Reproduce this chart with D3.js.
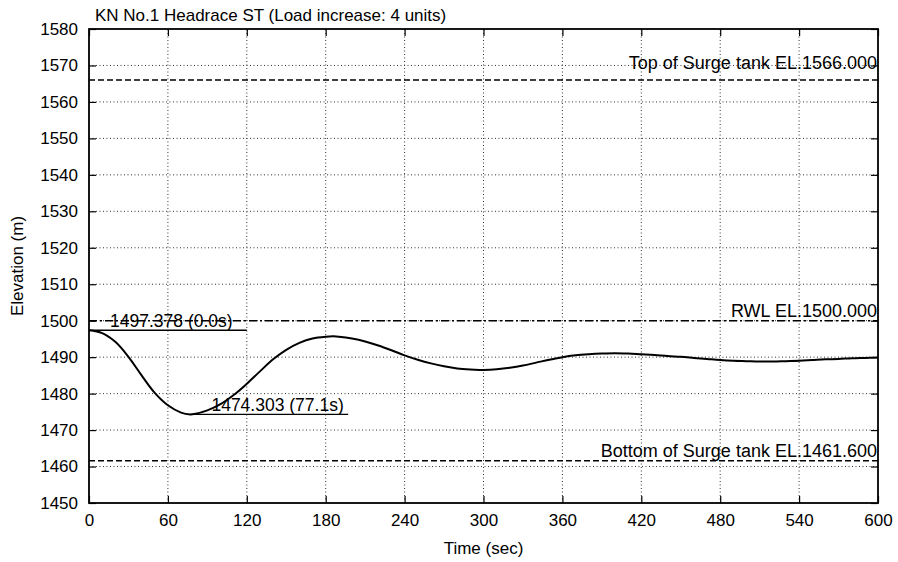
<!DOCTYPE html>
<html>
<head>
<meta charset="utf-8">
<script src="https://cdn.jsdelivr.net/npm/d3@7"></script>
<style>
  body { margin: 0; background: #fff; }
  svg { display: block; font-family: "Liberation Sans", Arial, Helvetica, sans-serif; }
</style>
</head>
<body>
<svg id="chart" width="898" height="562"></svg>
<script>
const margin = { left: 89, right: 20, top: 29, bottom: 59 };
const size = { width: 898, height: 562 };

// water level in surge tank (sec, m)
const times = [0, 10, 20, 30, 40, 50, 60, 70, 77.1, 80, 90, 100, 110, 120, 130, 140, 150, 160, 170, 180, 186,
  190, 200, 210, 220, 230, 240, 250, 260, 270, 280, 290, 297, 300, 310, 320, 330, 340, 350, 360, 370, 380, 390,
  400, 410, 420, 430, 440, 450, 460, 470, 480, 490, 500, 510, 520, 530, 540, 550, 560, 570, 580, 590, 600];
const levels = [1497.378, 1496.6, 1494.2, 1490.1, 1485.0, 1480.2, 1476.8, 1474.8, 1474.303, 1474.4, 1475.4, 1477.1,
  1479.6, 1482.7, 1486.1, 1489.4, 1492.0, 1493.9, 1495.1, 1495.6, 1495.7,
  1495.6, 1495.1, 1494.3, 1493.2, 1491.9, 1490.5, 1489.3, 1488.3, 1487.5, 1486.9, 1486.6, 1486.5, 1486.5, 1486.7,
  1487.1, 1487.7, 1488.5, 1489.3, 1490.0, 1490.5, 1490.8, 1491.0,
  1491.1, 1491.0, 1490.8, 1490.6, 1490.3, 1490.1, 1489.8, 1489.5, 1489.2, 1489.0, 1488.9, 1488.8, 1488.8, 1488.9,
  1489.0, 1489.2, 1489.4, 1489.5, 1489.7, 1489.8, 1489.9];

const xTicks = d3.range(0, 601, 60);
const yTicks = d3.range(1450, 1581, 10);

// reference levels
const refLabels = ['Top of Surge tank EL.1566.000', 'RWL EL.1500.000', 'Bottom of Surge tank EL.1461.600'];
const refValues = [1566.0, 1500.0, 1461.6];
const refDash = ['6,3', '8,3,2,3', '6,3'];
const refLift = [11, 4, 4];

// max / min marks
const markTimes = [0.0, 77.1];
const markValues = [1497.378, 1474.303];
const markLabels = ['1497.378 (0.0s)', '1474.303 (77.1s)'];

const svg = d3.select('#chart');

const x = d3.scaleLinear().domain([0, 600]).range([margin.left, size.width - margin.right]);
const y = d3.scaleLinear().domain([1450, 1580]).range([size.height - margin.bottom, margin.top]);

const x0 = x(0), x1 = x(600), y0 = y(1450), y1 = y(1580);

// grid
const grid = svg.append('g').attr('stroke', '#333').attr('stroke-width', 1).attr('stroke-dasharray', '1,2.5');
grid.selectAll('.gx').data(xTicks.slice(1, -1)).join('line')
  .attr('x1', d => x(d)).attr('x2', d => x(d)).attr('y1', y0).attr('y2', y1);
grid.selectAll('.gy').data(yTicks.slice(1, -1)).join('line')
  .attr('x1', x0).attr('x2', x1).attr('y1', d => y(d)).attr('y2', d => y(d));

// ticks on all four sides, pointing inward
const tk = 7;
svg.append('g').attr('transform', `translate(0,${y0})`)
  .call(d3.axisBottom(x).tickValues(xTicks).tickSizeInner(-tk).tickSizeOuter(0).tickPadding(11))
  .call(g => g.select('.domain').remove());
svg.append('g').attr('transform', `translate(0,${y1})`)
  .call(d3.axisTop(x).tickValues(xTicks).tickSizeInner(-tk).tickSizeOuter(0).tickFormat(''))
  .call(g => g.select('.domain').remove());
svg.append('g').attr('transform', `translate(${x0},0)`)
  .call(d3.axisLeft(y).tickValues(yTicks).tickFormat(d3.format('d')).tickSizeInner(-tk).tickSizeOuter(0).tickPadding(11))
  .call(g => g.select('.domain').remove());
svg.append('g').attr('transform', `translate(${x1},0)`)
  .call(d3.axisRight(y).tickValues(yTicks).tickSizeInner(-tk).tickSizeOuter(0).tickFormat(''))
  .call(g => g.select('.domain').remove());

svg.selectAll('.tick line').attr('stroke', '#000').attr('stroke-width', 1.2);
svg.selectAll('.tick text').attr('fill', '#000').style('font-size', '17px').style('font-family', 'inherit');

// reference lines
refValues.forEach((v, i) => {
  svg.append('line')
    .attr('x1', x0).attr('x2', x1).attr('y1', y(v)).attr('y2', y(v))
    .attr('stroke', '#000').attr('stroke-width', 1.6).attr('stroke-dasharray', refDash[i]);
  svg.append('text')
    .attr('x', x1 - 1).attr('y', y(v) - refLift[i])
    .attr('text-anchor', 'end')
    .style('font-size', '18px')
    .text(refLabels[i]);
});

// curve
const pts = times.map((t, i) => [t, levels[i]]);
svg.append('path')
  .datum(pts)
  .attr('fill', 'none')
  .attr('stroke', '#000')
  .attr('stroke-width', 2)
  .attr('d', d3.line().x(d => x(d[0])).y(d => y(d[1])).curve(d3.curveCatmullRom.alpha(0.5)));

// marks with label
markTimes.forEach((t, i) => {
  svg.append('line')
    .attr('x1', x(t)).attr('x2', x(t + 120)).attr('y1', y(markValues[i])).attr('y2', y(markValues[i]))
    .attr('stroke', '#000').attr('stroke-width', 1.3);
  svg.append('text')
    .attr('x', x(t + 16)).attr('y', y(markValues[i]) - 3)
    .style('font-size', '17.5px')
    .text(markLabels[i]);
});

// border
svg.append('rect')
  .attr('x', x0).attr('y', y1).attr('width', x1 - x0).attr('height', y0 - y1)
  .attr('fill', 'none').attr('stroke', '#000').attr('stroke-width', 1.8);

// titles
svg.append('text')
  .attr('x', 95).attr('y', 21)
  .style('font-size', '17px')
  .text('KN No.1 Headrace ST (Load increase: 4 units)');

svg.append('text')
  .attr('x', (x0 + x1) / 2).attr('y', 554)
  .attr('text-anchor', 'middle')
  .style('font-size', '17px')
  .text('Time (sec)');

svg.append('text')
  .attr('transform', `translate(23,${(y0 + y1) / 2}) rotate(-90)`)
  .attr('text-anchor', 'middle')
  .style('font-size', '17px')
  .text('Elevation (m)');
</script>
</body>
</html>
